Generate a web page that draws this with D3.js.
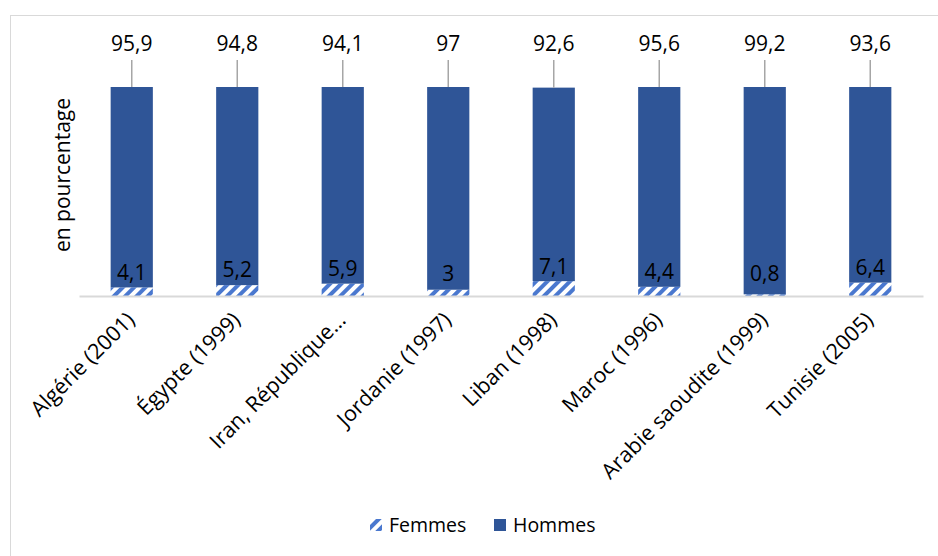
<!DOCTYPE html>
<html>
<head>
<meta charset="utf-8">
<script src="https://cdn.jsdelivr.net/npm/d3@7"></script>
<style>
  body { margin: 0; background: #fff; }
  text { font-family: "Open Sans", "Noto Sans", sans-serif; fill: #000; }
</style>
</head>
<body>
<div id="chart"></div>
<script>
const categories = ["Algérie (2001)", "Égypte (1999)", "Iran, République…", "Jordanie (1997)",
  "Liban (1998)", "Maroc (1996)", "Arabie saoudite (1999)", "Tunisie (2005)"];
const femmes = [4.1, 5.2, 5.9, 3, 7.1, 4.4, 0.8, 6.4];
const hommes = [95.9, 94.8, 94.1, 97, 92.6, 95.6, 99.2, 93.6];
const seriesNames = ["Femmes", "Hommes"];

const width = 938, height = 556;
const margin = {top: 87, right: 15, bottom: 261, left: 79};
const fmt = v => String(v).replace(".", ",");

const svg = d3.select("#chart").append("svg")
  .attr("width", width).attr("height", height);

// hatched fill for femmes
const defs = svg.append("defs");
const pat = defs.append("pattern")
  .attr("id", "hatch")
  .attr("patternUnits", "userSpaceOnUse")
  .attr("width", 8).attr("height", 8)
  .attr("patternTransform", "rotate(45)");
pat.append("rect").attr("width", 8).attr("height", 8).attr("fill", "#fff");
pat.append("rect").attr("width", 4).attr("height", 8).attr("fill", "#4a78cf");

// outer frame
svg.append("rect")
  .attr("x", 10.5).attr("y", 15.5)
  .attr("width", 940).attr("height", 560)
  .attr("fill", "none").attr("stroke", "#d9d9d9");

const x = d3.scaleBand()
  .domain(categories)
  .range([margin.left, width - margin.right])
  .paddingInner(0.6).paddingOuter(0.3);

const y = d3.scaleLinear()
  .domain([0, 100])
  .range([height - margin.bottom + 1, margin.top]);

const rows = categories.map((c, i) => ({cat: c, Femmes: femmes[i], Hommes: hommes[i]}));
const stacked = d3.stack().keys(seriesNames)(rows);

const g = svg.append("g");

// bars
g.selectAll("g.layer").data(stacked).join("g")
  .attr("class", "layer")
  .attr("fill", d => d.key === "Femmes" ? "url(#hatch)" : "#2f5597")
  .selectAll("rect").data(d => d).join("rect")
    .attr("x", d => x(d.data.cat))
    .attr("width", x.bandwidth())
    .attr("y", d => y(d[1]))
    .attr("height", d => y(d[0]) - y(d[1]));

// x axis line
const xAxis = d3.axisBottom(x).tickSize(0).tickPadding(0).tickFormat("");
const axG = svg.append("g")
  .attr("transform", `translate(0,${y(0)})`)
  .call(xAxis);
axG.select(".domain").attr("stroke", "#d9d9d9").attr("stroke-width", 2);

// rotated category labels
svg.append("g").selectAll("text").data(categories).join("text")
  .attr("transform", d => `translate(${x(d) + x.bandwidth() / 2 - 1},${y(0) + 20}) rotate(-45)`)
  .attr("text-anchor", "end")
  .attr("dy", "0.35em")
  .style("font-size", "21.5px")
  .text(d => d);

// hommes labels with leader lines
const hLayer = stacked[1];
g.selectAll("line.leader").data(hLayer).join("line")
  .attr("class", "leader")
  .attr("x1", d => x(d.data.cat) + x.bandwidth() / 2)
  .attr("x2", d => x(d.data.cat) + x.bandwidth() / 2)
  .attr("y1", d => y(d[1]))
  .attr("y2", 60)
  .attr("stroke", "#a6a6a6").attr("stroke-width", 1.5);
g.selectAll("text.hl").data(hLayer).join("text")
  .attr("class", "hl")
  .attr("x", d => x(d.data.cat) + x.bandwidth() / 2)
  .attr("y", 44)
  .attr("dy", "0.35em")
  .attr("text-anchor", "middle")
  .style("font-size", "21px")
  .text(d => fmt(d.data.Hommes));

// femmes labels
const fLayer = stacked[0];
g.selectAll("text.fl").data(fLayer).join("text")
  .attr("class", "fl")
  .attr("x", d => x(d.data.cat) + x.bandwidth() / 2)
  .attr("y", d => Math.min(y(d[1]) - 15, 274))
  .attr("dy", "0.35em")
  .attr("text-anchor", "middle")
  .style("font-size", "21px")
  .text(d => fmt(d.data.Femmes));

// y title
svg.append("text")
  .attr("transform", `translate(63,${175}) rotate(-90)`)
  .attr("text-anchor", "middle")
  .attr("dy", "0.35em")
  .style("font-size", "21px")
  .text("en pourcentage");

// legend
const legend = svg.append("g").attr("transform", "translate(370,525)");
const items = [
  {name: "Femmes", fill: "url(#hatch)", x: 0},
  {name: "Hommes", fill: "#2f5597", x: 124}
];
const li = legend.selectAll("g").data(items).join("g")
  .attr("transform", d => `translate(${d.x},0)`);
li.append("rect").attr("x", 0).attr("y", -6).attr("width", 12).attr("height", 12)
  .attr("fill", d => d.fill);
li.append("text").attr("x", 19).attr("dy", "0.35em")
  .style("font-size", "19.5px")
  .text(d => d.name);
</script>
</body>
</html>
